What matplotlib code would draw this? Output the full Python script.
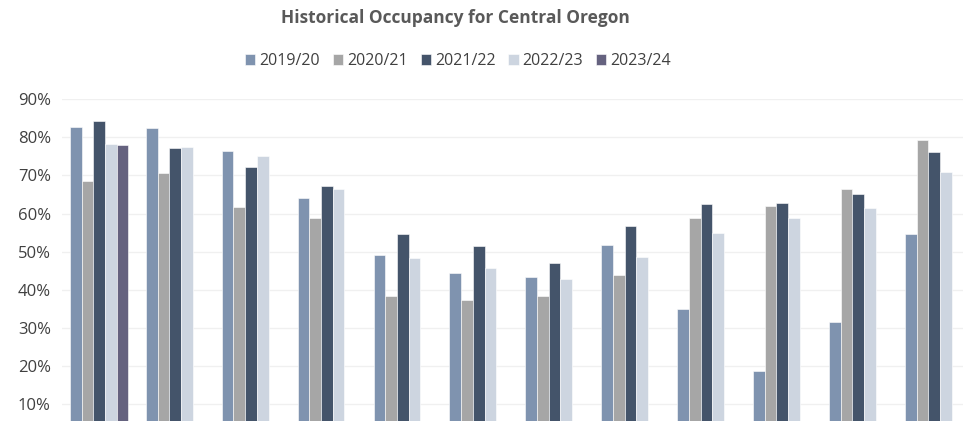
import matplotlib.pyplot as plt
import numpy as np
from matplotlib.ticker import PercentFormatter

# ── data ──
months = ["Jul", "Aug", "Sep", "Oct", "Nov", "Dec",
          "Jan", "Feb", "Mar", "Apr", "May", "Jun"]
seasons = ["2019/20", "2020/21", "2021/22", "2022/23", "2023/24"]

occ_1920 = [82.7, 82.4, 76.4, 64.2, 49.0, 44.4, 43.4, 51.7, 34.9, 18.7, 31.5, 54.7]
occ_2021 = [68.6, 70.7, 61.7, 58.9, 38.4, 37.3, 38.3, 43.9, 58.9, 61.9, 66.5, 79.3]
occ_2122 = [84.4, 77.1, 72.3, 67.2, 54.5, 51.5, 47.0, 56.6, 62.6, 62.7, 65.1, 76.2]
occ_2223 = [78.3, 77.6, 75.1, 66.5, 48.4, 45.7, 42.8, 48.7, 54.9, 58.9, 61.5, 70.9]
occ_2324 = [78.1]

colors = ["#7F93AF", "#A6A6A6", "#44546A", "#CDD5E0", "#65627F"]

# ── plot ──
fig = plt.figure(figsize=(9.63, 4.21), dpi=100)
ax = fig.add_axes([62 / 963, 0.0, 1 - 62 / 963, 1 - 99.3 / 421])

x = np.arange(len(months))
width = 0.154
series = [occ_1920, occ_2021, occ_2122, occ_2223, occ_2324]
for i, (vals, lab, c) in enumerate(zip(series, seasons, colors)):
    xs = x[:len(vals)] + (i - 2) * width
    ax.bar(xs, vals, width=width, color=c, edgecolor="white",
           linewidth=0.4, label=lab, zorder=2)

ax.set_xlim(-0.49, 11.38)
ax.set_ylim(5.5, 90)
ax.set_yticks(np.arange(10, 91, 10))
ax.yaxis.set_major_formatter(PercentFormatter(decimals=0))
ax.set_xticks([])
ax.grid(axis="y", color="#F0F0F0", linewidth=1, zorder=0)
for s in ax.spines.values():
    s.set_visible(False)
ax.tick_params(axis="y", length=0, pad=8, labelsize=12, labelcolor="#404040")
for t in ax.get_yticklabels():
    t.set_fontfamily("Open Sans")

fig.text(455.5 / 963, 1 - 18 / 421, "Historical Occupancy for Central Oregon",
         ha="center", va="center", fontsize=12.5, fontweight="bold",
         color="#595959", fontfamily="Open Sans")

fig.legend(loc="center", bbox_to_anchor=(458 / 963, 1 - 61 / 421), ncol=5,
           frameon=False, handlelength=0.65, handleheight=0.65,
           handletextpad=0.25, columnspacing=0.8,
           prop={"family": "Open Sans", "size": 11.5}, labelcolor="#404040")

fig.savefig("out.png", dpi=100)
